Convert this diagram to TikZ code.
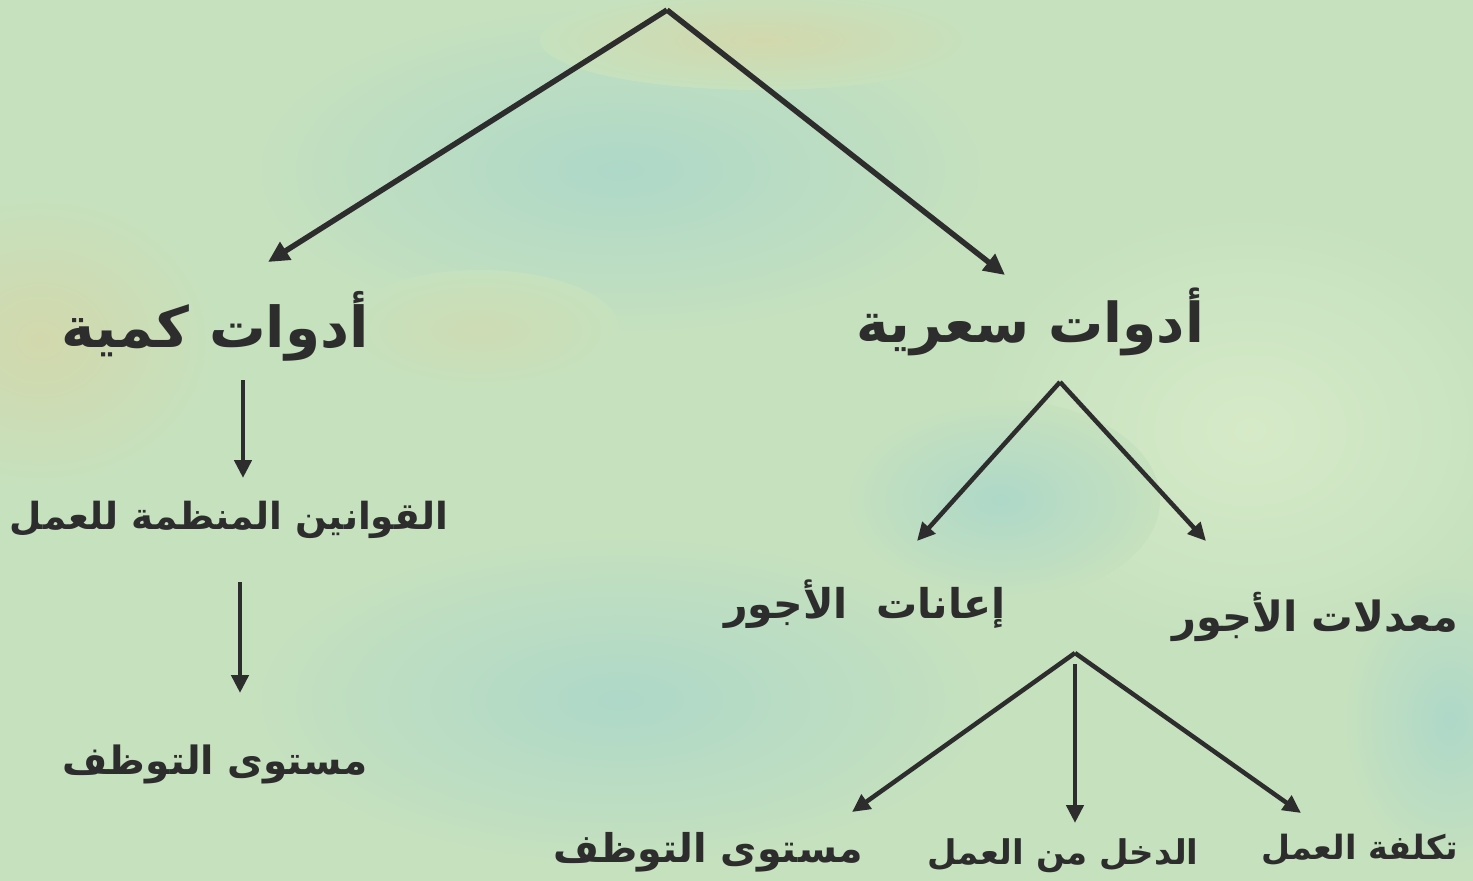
\documentclass[tikz,border=0pt]{standalone}
\usepackage{fontspec}
\usetikzlibrary{arrows.meta}
\TeXXeTstate=1
\newfontfamily\arabicfont[Script=Arabic]{DejaVu Sans}
\definecolor{bgbase}{RGB}{198,225,190}
\definecolor{bgteal}{RGB}{174,216,200}
\definecolor{bgtan}{RGB}{210,216,172}
\definecolor{bgpale}{RGB}{214,234,200}
\definecolor{ink}{RGB}{45,45,45}
\tikzset{
  lbl/.style={inner sep=0pt, text=ink},
  conn/.style={draw=ink, line width=5.5pt, -{Triangle[length=21pt,width=20pt]}},
  connb/.style={draw=ink, line width=4.5pt, -{Triangle[length=18pt,width=17pt]}},
}
\newcommand{\arsz}[1]{\arabicfont\bfseries\fontsize{#1}{#1}\selectfont}
\begin{document}
\begin{tikzpicture}[x=1pt,y=-1pt]
\useasboundingbox (0,0) rectangle (1473,881);
% background
\fill[bgbase] (0,0) rectangle (1473,881);
\shade[inner color=bgteal, outer color=bgbase] (620,170) ellipse (380 and 170);
\shade[inner color=bgteal, outer color=bgbase] (620,700) ellipse (380 and 170);
\shade[inner color=bgtan, outer color=bgbase] (40,340) ellipse (180 and 150);
\shade[inner color=bgtan!60!bgbase, outer color=bgbase] (480,330) ellipse (140 and 60);
\shade[inner color=bgpale, outer color=bgbase] (1250,430) ellipse (280 and 220);
\shade[inner color=bgtan, outer color=bgbase] (760,40) ellipse (220 and 50);
\shade[inner color=bgteal, outer color=bgbase] (1450,720) ellipse (110 and 150);
\shade[inner color=bgteal, outer color=bgbase] (1000,500) ellipse (160 and 100);

% labels
\node[lbl, font=\arsz{56.5}] (kam) at (215,326) {\beginR أدوات كمية\endR};
\node[lbl, font=\arsz{55}] (sir) at (1030,322) {\beginR أدوات سعرية\endR};
\node[lbl, font=\arsz{37.3}] (qaw) at (229,520) {\beginR القوانين المنظمة للعمل\endR};
\node[lbl, font=\arsz{39}] (taw1) at (215,764) {\beginR مستوى التوظف\endR};
\node[lbl, font=\arsz{41}] (iana) at (865,604) {\beginR إعانات~ الأجور\endR};
\node[lbl, font=\arsz{41.6}] (muad) at (1315,617) {\beginR معدلات الأجور\endR};
\node[lbl, font=\arsz{39.6}] (taw2) at (708,852) {\beginR مستوى التوظف\endR};
\node[lbl, font=\arsz{34}] (dakh) at (1063,856) {\beginR الدخل من العمل\endR};
\node[lbl, font=\arsz{33.4}] (takl) at (1360,850) {\beginR تكلفة العمل\endR};

% connector points
\coordinate (top) at (667,10);
\coordinate (kamT) at (268,262);
\coordinate (sirT) at (1005,275);
\coordinate (kamB) at (243,380);
\coordinate (qawT) at (243,478);
\coordinate (qawB) at (240,582);
\coordinate (taw1T) at (240,693);
\coordinate (sirB) at (1060,382);
\coordinate (ianaT) at (917,541);
\coordinate (muadT) at (1206,541);
\coordinate (muadB) at (1075,653);
\coordinate (muadC) at (1075,664);
\coordinate (taw2T) at (852,812);
\coordinate (dakhT) at (1075,823);
\coordinate (taklT) at (1301,813);

\draw[conn] (top) -- (kamT);
\draw[conn] (top) -- (sirT);
\draw[connb] (kamB) -- (qawT);
\draw[connb] (qawB) -- (taw1T);
\draw[connb] (sirB) -- (ianaT);
\draw[connb] (sirB) -- (muadT);
\draw[connb] (muadB) -- (taw2T);
\draw[connb] (muadC) -- (dakhT);
\draw[connb] (muadB) -- (taklT);
\end{tikzpicture}
\end{document}
